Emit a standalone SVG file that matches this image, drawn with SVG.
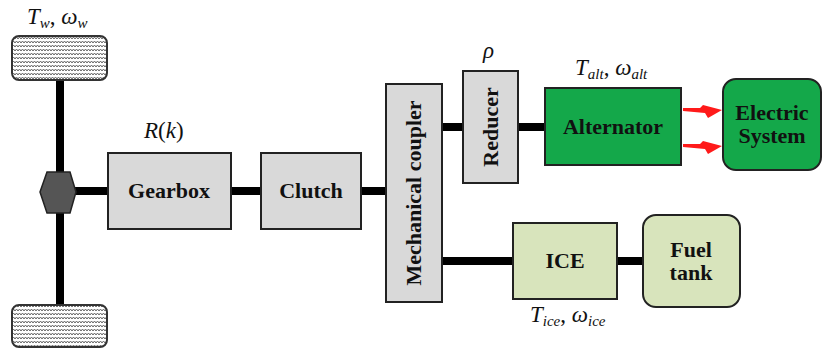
<svg xmlns="http://www.w3.org/2000/svg" width="823" height="349" viewBox="0 0 823 349">
<style>
.box{stroke:#222;stroke-width:2}
.gray{fill:#d9d9d9}
.lg{fill:#d8e4bc}
.dg{fill:#14a84a}
.lbl{font-family:'Liberation Serif','DejaVu Serif',serif;font-weight:bold;font-size:22px;fill:#111;text-anchor:middle}
.math{font-family:'Liberation Serif','DejaVu Serif',serif;font-style:italic;font-size:23px;fill:#111}
.sub{font-size:15px}
.shaft{stroke:#000;stroke-width:8;fill:none}
.bolt{fill:#ff1a1a}
</style>
<defs>
<pattern id="wave" patternUnits="userSpaceOnUse" width="6" height="4">
<rect width="6" height="4" fill="#fff"/>
<path d="M0,3 L1.5,1 L3,3 L4.5,1 L6,3" stroke="#666" stroke-width="1" fill="none"/>
</pattern>
</defs>
<g id="connectors">
<line class="shaft" x1="60" y1="80" x2="60" y2="306"/>
<line class="shaft" x1="74" y1="191" x2="108" y2="191"/>
<line class="shaft" x1="231" y1="191" x2="261" y2="191"/>
<line class="shaft" x1="361" y1="191" x2="386" y2="191"/>
<line class="shaft" x1="442" y1="127" x2="463" y2="127"/>
<line class="shaft" x1="518" y1="127" x2="545" y2="127"/>
<line class="shaft" x1="442" y1="261" x2="513" y2="261"/>
<line class="shaft" x1="617" y1="261" x2="643" y2="261"/>
<polygon class="bolt" points="683,108 700,108 703,105 722,110 708,118 705,113 683,111"/>
<polygon class="bolt" points="683,144 700,144 703,141 722,146 708,154 705,149 683,147"/>
</g>
<g id="wheel_top"><rect x="12" y="36" width="95" height="44" rx="7" fill="url(#wave)" stroke="#333" stroke-width="2"/></g>
<g id="wheel_bottom"><rect x="12" y="305" width="95" height="42" rx="7" fill="url(#wave)" stroke="#333" stroke-width="2"/></g>
<g id="hub"><polygon points="47,172 70,172 76,192 70,213 47,213 40,192" fill="#555" stroke="#222" stroke-width="1.5"/></g>
<g id="gearbox"><rect class="box gray" x="108" y="153" width="123" height="76"/><text class="lbl" x="169" y="198">Gearbox</text></g>
<g id="clutch"><rect class="box gray" x="261" y="153" width="100" height="76"/><text class="lbl" x="311" y="198">Clutch</text></g>
<g id="coupler"><rect class="box gray" x="386" y="84" width="56" height="218"/><text class="lbl" transform="translate(421,193) rotate(-90)">Mechanical coupler</text></g>
<g id="reducer"><rect class="box gray" x="463" y="71" width="55" height="112"/><text class="lbl" transform="translate(498,127) rotate(-90)">Reducer</text></g>
<g id="alternator"><rect class="box dg" x="545" y="88" width="136" height="77"/><text class="lbl" x="613" y="134">Alternator</text></g>
<g id="electric"><rect class="box dg" x="723" y="79" width="98" height="91" rx="13"/><text class="lbl" x="772" y="120">Electric</text><text class="lbl" x="772" y="143">System</text></g>
<g id="ice"><rect class="box lg" x="513" y="223" width="104" height="76"/><text class="lbl" x="565" y="268">ICE</text></g>
<g id="fuel"><rect class="box lg" x="643" y="215" width="97" height="92" rx="13"/><text class="lbl" x="691" y="257">Fuel</text><text class="lbl" x="691" y="280">tank</text></g>
<g id="labels">
<text class="math" x="27" y="24">T<tspan class="sub" dy="4">w</tspan><tspan dy="-4" font-style="normal">,  </tspan>ω<tspan class="sub" dy="4">w</tspan></text>
<text class="math" x="144" y="138">R<tspan font-style="normal">(</tspan>k<tspan font-style="normal">)</tspan></text>
<text class="math" x="483" y="58">ρ</text>
<text class="math" x="575" y="75">T<tspan class="sub" dy="4">alt</tspan><tspan dy="-4" font-style="normal">,  </tspan>ω<tspan class="sub" dy="4">alt</tspan></text>
<text class="math" x="530" y="322">T<tspan class="sub" dy="4">ice</tspan><tspan dy="-4" font-style="normal">,  </tspan>ω<tspan class="sub" dy="4">ice</tspan></text>
</g>
</svg>
